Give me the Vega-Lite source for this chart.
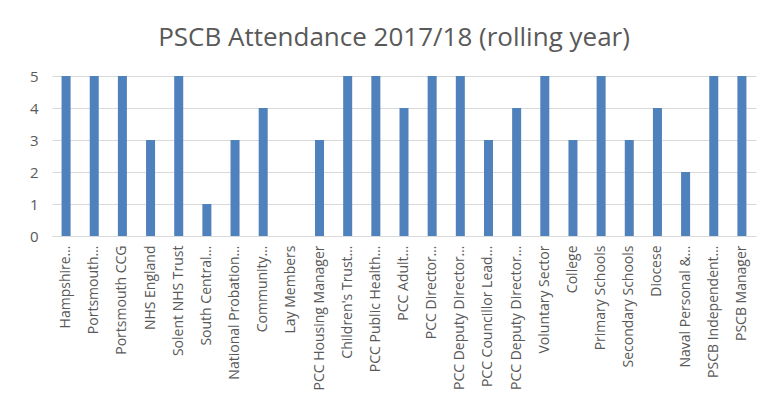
{
  "$schema": "https://vega.github.io/schema/vega-lite/v6.json",
  "width": 704,
  "height": 160,
  "autosize": {"type": "none"},
  "padding": {"left": 52, "top": 76, "right": 25, "bottom": 174},
  "background": "white",
  "title": {
    "text": "PSCB Attendance 2017/18 (rolling year)",
    "font": "Open Sans",
    "fontSize": 26,
    "fontWeight": "normal",
    "color": "#595959",
    "offset": 18,
    "dx": -10
  },
  "data": {
    "values": [
      {"member": "Hampshire…", "attendance": 5},
      {"member": "Portsmouth…", "attendance": 5},
      {"member": "Portsmouth CCG", "attendance": 5},
      {"member": "NHS England", "attendance": 3},
      {"member": "Solent NHS Trust", "attendance": 5},
      {"member": "South Central…", "attendance": 1},
      {"member": "National Probation…", "attendance": 3},
      {"member": "Community…", "attendance": 4},
      {"member": "Lay Members", "attendance": 0},
      {"member": "PCC Housing Manager", "attendance": 3},
      {"member": "Children's Trust…", "attendance": 5},
      {"member": "PCC Public Health…", "attendance": 5},
      {"member": "PCC Adult…", "attendance": 4},
      {"member": "PCC Director…", "attendance": 5},
      {"member": "PCC Deputy Director…", "attendance": 5},
      {"member": "PCC Councillor Lead…", "attendance": 3},
      {"member": "PCC Deputy Director… ", "attendance": 4},
      {"member": "Voluntary Sector", "attendance": 5},
      {"member": "College", "attendance": 3},
      {"member": "Primary Schools", "attendance": 5},
      {"member": "Secondary Schools", "attendance": 3},
      {"member": "Diocese", "attendance": 4},
      {"member": "Naval Personal &…", "attendance": 2},
      {"member": "PSCB Independent…", "attendance": 5},
      {"member": "PSCB Manager", "attendance": 5}
    ]
  },
  "mark": {"type": "bar", "color": "#4F81BD"},
  "encoding": {
    "x": {
      "field": "member",
      "type": "nominal",
      "sort": null,
      "scale": {"paddingInner": 0.68, "paddingOuter": 0.34},
      "axis": {
        "title": null,
        "labelAngle": -90,
        "labelFont": "Open Sans",
        "labelFontSize": 14,
        "labelColor": "#595959",
        "labelPadding": 9,
        "ticks": false,
        "domainColor": "#d9d9d9",
        "labelLimit": 200
      }
    },
    "y": {
      "field": "attendance",
      "type": "quantitative",
      "scale": {"domain": [0, 5]},
      "axis": {
        "title": null,
        "values": [0, 1, 2, 3, 4, 5],
        "labelFont": "Open Sans",
        "labelFontSize": 15,
        "labelColor": "#595959",
        "labelPadding": 14,
        "ticks": false,
        "domain": false,
        "gridColor": "#d9d9d9"
      }
    }
  },
  "config": {"view": {"stroke": null}}
}
